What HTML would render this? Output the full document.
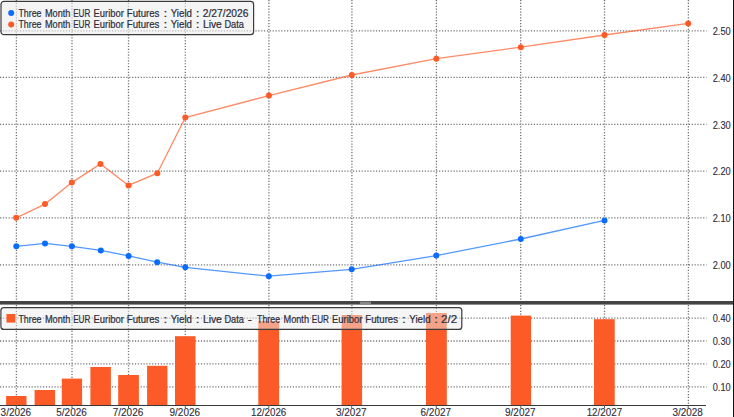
<!DOCTYPE html>
<html><head><meta charset="utf-8"><style>
html,body{margin:0;padding:0;background:#fff;width:734px;height:417px;overflow:hidden;position:relative;font-family:"Liberation Sans",sans-serif}
</style></head><body>
<svg width="734" height="417" viewBox="0 0 734 417" style="position:absolute;left:0;top:0">
<line x1="16.4" y1="0" x2="16.4" y2="301" stroke="#727272" stroke-width="1.3" stroke-dasharray="1.2 1.67"/>
<line x1="16.4" y1="305" x2="16.4" y2="405" stroke="#727272" stroke-width="1.3" stroke-dasharray="1.2 1.67"/>
<line x1="72.0" y1="0" x2="72.0" y2="301" stroke="#727272" stroke-width="1.3" stroke-dasharray="1.2 1.67"/>
<line x1="72.0" y1="305" x2="72.0" y2="405" stroke="#727272" stroke-width="1.3" stroke-dasharray="1.2 1.67"/>
<line x1="128.5" y1="0" x2="128.5" y2="301" stroke="#727272" stroke-width="1.3" stroke-dasharray="1.2 1.67"/>
<line x1="128.5" y1="305" x2="128.5" y2="405" stroke="#727272" stroke-width="1.3" stroke-dasharray="1.2 1.67"/>
<line x1="185.3" y1="0" x2="185.3" y2="301" stroke="#727272" stroke-width="1.3" stroke-dasharray="1.2 1.67"/>
<line x1="185.3" y1="305" x2="185.3" y2="405" stroke="#727272" stroke-width="1.3" stroke-dasharray="1.2 1.67"/>
<line x1="268.9" y1="0" x2="268.9" y2="301" stroke="#727272" stroke-width="1.3" stroke-dasharray="1.2 1.67"/>
<line x1="268.9" y1="305" x2="268.9" y2="405" stroke="#727272" stroke-width="1.3" stroke-dasharray="1.2 1.67"/>
<line x1="351.9" y1="0" x2="351.9" y2="301" stroke="#727272" stroke-width="1.3" stroke-dasharray="1.2 1.67"/>
<line x1="351.9" y1="305" x2="351.9" y2="405" stroke="#727272" stroke-width="1.3" stroke-dasharray="1.2 1.67"/>
<line x1="436.4" y1="0" x2="436.4" y2="301" stroke="#727272" stroke-width="1.3" stroke-dasharray="1.2 1.67"/>
<line x1="436.4" y1="305" x2="436.4" y2="405" stroke="#727272" stroke-width="1.3" stroke-dasharray="1.2 1.67"/>
<line x1="520.7" y1="0" x2="520.7" y2="301" stroke="#727272" stroke-width="1.3" stroke-dasharray="1.2 1.67"/>
<line x1="520.7" y1="305" x2="520.7" y2="405" stroke="#727272" stroke-width="1.3" stroke-dasharray="1.2 1.67"/>
<line x1="604.5" y1="0" x2="604.5" y2="301" stroke="#727272" stroke-width="1.3" stroke-dasharray="1.2 1.67"/>
<line x1="604.5" y1="305" x2="604.5" y2="405" stroke="#727272" stroke-width="1.3" stroke-dasharray="1.2 1.67"/>
<line x1="688.4" y1="0" x2="688.4" y2="301" stroke="#727272" stroke-width="1.3" stroke-dasharray="1.2 1.67"/>
<line x1="688.4" y1="305" x2="688.4" y2="405" stroke="#727272" stroke-width="1.3" stroke-dasharray="1.2 1.67"/>
<line x1="0" y1="30.8" x2="706.5" y2="30.8" stroke="#727272" stroke-width="1.3" stroke-dasharray="1.2 1.67"/>
<line x1="0" y1="77.3" x2="706.5" y2="77.3" stroke="#727272" stroke-width="1.3" stroke-dasharray="1.2 1.67"/>
<line x1="0" y1="124.3" x2="706.5" y2="124.3" stroke="#727272" stroke-width="1.3" stroke-dasharray="1.2 1.67"/>
<line x1="0" y1="171.2" x2="706.5" y2="171.2" stroke="#727272" stroke-width="1.3" stroke-dasharray="1.2 1.67"/>
<line x1="0" y1="217.8" x2="706.5" y2="217.8" stroke="#727272" stroke-width="1.3" stroke-dasharray="1.2 1.67"/>
<line x1="0" y1="264.9" x2="706.5" y2="264.9" stroke="#727272" stroke-width="1.3" stroke-dasharray="1.2 1.67"/>
<line x1="0" y1="318.1" x2="706.5" y2="318.1" stroke="#727272" stroke-width="1.3" stroke-dasharray="1.2 1.67"/>
<line x1="0" y1="341.0" x2="706.5" y2="341.0" stroke="#727272" stroke-width="1.3" stroke-dasharray="1.2 1.67"/>
<line x1="0" y1="363.9" x2="706.5" y2="363.9" stroke="#727272" stroke-width="1.3" stroke-dasharray="1.2 1.67"/>
<line x1="0" y1="386.8" x2="706.5" y2="386.8" stroke="#727272" stroke-width="1.3" stroke-dasharray="1.2 1.67"/>
<rect x="6.1" y="396" width="20.4" height="9.0" fill="#fc5a26"/>
<rect x="34.6" y="390" width="20.5" height="15.0" fill="#fc5a26"/>
<rect x="61.8" y="378.6" width="20.3" height="26.4" fill="#fc5a26"/>
<rect x="90.4" y="367" width="20.5" height="38.0" fill="#fc5a26"/>
<rect x="118.2" y="375" width="20.7" height="30.0" fill="#fc5a26"/>
<rect x="147.1" y="365.8" width="20.3" height="39.2" fill="#fc5a26"/>
<rect x="175" y="336.2" width="20.5" height="68.8" fill="#fc5a26"/>
<rect x="258.3" y="320.9" width="20.8" height="84.1" fill="#fc5a26"/>
<rect x="341.6" y="315" width="20.5" height="90.0" fill="#fc5a26"/>
<rect x="426" y="313" width="20.8" height="92.0" fill="#fc5a26"/>
<rect x="510.7" y="315.6" width="20.4" height="89.4" fill="#fc5a26"/>
<rect x="594" y="319.2" width="20.7" height="85.8" fill="#fc5a26"/>
<polyline points="16.3,246.3 45.0,243.4 71.9,246.3 100.8,250.4 128.6,255.9 157.2,262.2 185.3,267.3 268.8,276.2 351.7,269.3 436.3,255.6 520.8,239.0 604.5,220.4" fill="none" stroke="#0a6cff" stroke-opacity="0.7" stroke-width="1.3"/>
<circle cx="16.3" cy="246.3" r="3.0" fill="#0a6cff"/>
<circle cx="45.0" cy="243.4" r="3.0" fill="#0a6cff"/>
<circle cx="71.9" cy="246.3" r="3.0" fill="#0a6cff"/>
<circle cx="100.8" cy="250.4" r="3.0" fill="#0a6cff"/>
<circle cx="128.6" cy="255.9" r="3.0" fill="#0a6cff"/>
<circle cx="157.2" cy="262.2" r="3.0" fill="#0a6cff"/>
<circle cx="185.3" cy="267.3" r="3.0" fill="#0a6cff"/>
<circle cx="268.8" cy="276.2" r="3.0" fill="#0a6cff"/>
<circle cx="351.7" cy="269.3" r="3.0" fill="#0a6cff"/>
<circle cx="436.3" cy="255.6" r="3.0" fill="#0a6cff"/>
<circle cx="520.8" cy="239.0" r="3.0" fill="#0a6cff"/>
<circle cx="604.5" cy="220.4" r="3.0" fill="#0a6cff"/>
<polyline points="16.2,217.8 45.0,204.1 71.8,182.6 100.5,163.9 128.5,185.4 157.3,173.2 185.3,117.5 268.9,95.6 351.8,75.0 436.3,58.7 520.8,47.2 604.5,35.0 688.2,23.4" fill="none" stroke="#fc5a26" stroke-opacity="0.7" stroke-width="1.3"/>
<circle cx="16.2" cy="217.8" r="3.0" fill="#fc5a26"/>
<circle cx="45.0" cy="204.1" r="3.0" fill="#fc5a26"/>
<circle cx="71.8" cy="182.6" r="3.0" fill="#fc5a26"/>
<circle cx="100.5" cy="163.9" r="3.0" fill="#fc5a26"/>
<circle cx="128.5" cy="185.4" r="3.0" fill="#fc5a26"/>
<circle cx="157.3" cy="173.2" r="3.0" fill="#fc5a26"/>
<circle cx="185.3" cy="117.5" r="3.0" fill="#fc5a26"/>
<circle cx="268.9" cy="95.6" r="3.0" fill="#fc5a26"/>
<circle cx="351.8" cy="75.0" r="3.0" fill="#fc5a26"/>
<circle cx="436.3" cy="58.7" r="3.0" fill="#fc5a26"/>
<circle cx="520.8" cy="47.2" r="3.0" fill="#fc5a26"/>
<circle cx="604.5" cy="35.0" r="3.0" fill="#fc5a26"/>
<circle cx="688.2" cy="23.4" r="3.0" fill="#fc5a26"/>
<rect x="0" y="301" width="734" height="3.6" fill="#444"/>
<rect x="360" y="301.6" width="11" height="2.4" fill="#888"/>
<line x1="0" y1="405.5" x2="706" y2="405.5" stroke="#383838" stroke-width="1.2"/>
<line x1="16.3" y1="405" x2="16.3" y2="408" stroke="#555" stroke-width="1"/>
<line x1="72" y1="405" x2="72" y2="408" stroke="#555" stroke-width="1"/>
<line x1="128.5" y1="405" x2="128.5" y2="408" stroke="#555" stroke-width="1"/>
<line x1="185.3" y1="405" x2="185.3" y2="408" stroke="#555" stroke-width="1"/>
<line x1="268.8" y1="405" x2="268.8" y2="408" stroke="#555" stroke-width="1"/>
<line x1="351.7" y1="405" x2="351.7" y2="408" stroke="#555" stroke-width="1"/>
<line x1="436.3" y1="405" x2="436.3" y2="408" stroke="#555" stroke-width="1"/>
<line x1="520.8" y1="405" x2="520.8" y2="408" stroke="#555" stroke-width="1"/>
<line x1="604.5" y1="405" x2="604.5" y2="408" stroke="#555" stroke-width="1"/>
<line x1="688.2" y1="405" x2="688.2" y2="408" stroke="#555" stroke-width="1"/>
<line x1="733.5" y1="0" x2="733.5" y2="417" stroke="#111" stroke-width="1"/>
<rect x="1" y="1.4" width="252.6" height="33.3" rx="3" fill="rgba(236,236,236,0.6)" stroke="#3c3c3c" stroke-width="1.2"/>
<circle cx="11.2" cy="13" r="3" fill="#0a6cff"/>
<circle cx="11.2" cy="24.5" r="3" fill="#fc5a26"/>
<rect x="0.9" y="307.6" width="460.9" height="21.8" rx="3" fill="rgba(236,236,236,0.5)" stroke="#3c3c3c" stroke-width="1.2"/>
<rect x="6.5" y="314" width="8.8" height="8.6" fill="#fc5a26"/>
<g font-family="Liberation Sans, sans-serif" font-size="10.5" fill="#2e2e3c" stroke="#2e2e3c" stroke-width="0.22">
<text x="18.43" y="16.9" textLength="23.13" lengthAdjust="spacingAndGlyphs">Three</text>
<text x="44.91" y="16.9" textLength="25.48" lengthAdjust="spacingAndGlyphs">Month</text>
<text x="73.20" y="16.9" textLength="17.14" lengthAdjust="spacingAndGlyphs">EUR</text>
<text x="93.49" y="16.9" textLength="30.34" lengthAdjust="spacingAndGlyphs">Euribor</text>
<text x="126.77" y="16.9" textLength="32.69" lengthAdjust="spacingAndGlyphs">Futures</text>
<text x="163.45" y="16.9" textLength="3.79" lengthAdjust="spacingAndGlyphs">:</text>
<text x="170.72" y="16.9" textLength="21.29" lengthAdjust="spacingAndGlyphs">Yield</text>
<text x="195.75" y="16.9" textLength="3.79" lengthAdjust="spacingAndGlyphs">:</text>
<text x="202.81" y="16.9" textLength="45.69" lengthAdjust="spacingAndGlyphs">2/27/2026</text>
<text x="18.43" y="28.4" textLength="23.13" lengthAdjust="spacingAndGlyphs">Three</text>
<text x="44.91" y="28.4" textLength="25.48" lengthAdjust="spacingAndGlyphs">Month</text>
<text x="73.20" y="28.4" textLength="17.14" lengthAdjust="spacingAndGlyphs">EUR</text>
<text x="93.49" y="28.4" textLength="30.34" lengthAdjust="spacingAndGlyphs">Euribor</text>
<text x="126.77" y="28.4" textLength="32.69" lengthAdjust="spacingAndGlyphs">Futures</text>
<text x="163.45" y="28.4" textLength="3.79" lengthAdjust="spacingAndGlyphs">:</text>
<text x="170.72" y="28.4" textLength="21.29" lengthAdjust="spacingAndGlyphs">Yield</text>
<text x="195.75" y="28.4" textLength="3.79" lengthAdjust="spacingAndGlyphs">:</text>
<text x="202.92" y="28.4" textLength="18.94" lengthAdjust="spacingAndGlyphs">Live</text>
<text x="224.41" y="28.4" textLength="19.47" lengthAdjust="spacingAndGlyphs">Data</text>
<text x="18.43" y="322.6" textLength="23.13" lengthAdjust="spacingAndGlyphs">Three</text>
<text x="44.91" y="322.6" textLength="25.48" lengthAdjust="spacingAndGlyphs">Month</text>
<text x="73.20" y="322.6" textLength="17.14" lengthAdjust="spacingAndGlyphs">EUR</text>
<text x="93.49" y="322.6" textLength="30.34" lengthAdjust="spacingAndGlyphs">Euribor</text>
<text x="126.77" y="322.6" textLength="32.69" lengthAdjust="spacingAndGlyphs">Futures</text>
<text x="163.45" y="322.6" textLength="3.79" lengthAdjust="spacingAndGlyphs">:</text>
<text x="170.72" y="322.6" textLength="21.29" lengthAdjust="spacingAndGlyphs">Yield</text>
<text x="195.75" y="322.6" textLength="3.79" lengthAdjust="spacingAndGlyphs">:</text>
<text x="202.92" y="322.6" textLength="18.94" lengthAdjust="spacingAndGlyphs">Live</text>
<text x="224.41" y="322.6" textLength="19.47" lengthAdjust="spacingAndGlyphs">Data</text>
<text x="247.80" y="322.6" textLength="4.20" lengthAdjust="spacingAndGlyphs">-</text>
<text x="257.03" y="322.6" textLength="23.13" lengthAdjust="spacingAndGlyphs">Three</text>
<text x="283.51" y="322.6" textLength="25.48" lengthAdjust="spacingAndGlyphs">Month</text>
<text x="311.80" y="322.6" textLength="17.14" lengthAdjust="spacingAndGlyphs">EUR</text>
<text x="332.09" y="322.6" textLength="30.34" lengthAdjust="spacingAndGlyphs">Euribor</text>
<text x="365.37" y="322.6" textLength="32.69" lengthAdjust="spacingAndGlyphs">Futures</text>
<text x="402.05" y="322.6" textLength="3.79" lengthAdjust="spacingAndGlyphs">:</text>
<text x="409.32" y="322.6" textLength="21.29" lengthAdjust="spacingAndGlyphs">Yield</text>
<text x="434.35" y="322.6" textLength="3.79" lengthAdjust="spacingAndGlyphs">:</text>
<text x="441.05" y="322.6" textLength="16.10" lengthAdjust="spacingAndGlyphs">2/2</text>
</g>
<g font-family="Liberation Sans, sans-serif" font-size="10.5" fill="#2e2e3c" stroke="#2e2e3c" stroke-width="0.12">
<text x="712.66" y="34.8" textLength="18.03" lengthAdjust="spacingAndGlyphs">2.50</text>
<text x="712.66" y="81.5" textLength="18.03" lengthAdjust="spacingAndGlyphs">2.40</text>
<text x="712.66" y="128.5" textLength="18.03" lengthAdjust="spacingAndGlyphs">2.30</text>
<text x="712.66" y="175.0" textLength="18.03" lengthAdjust="spacingAndGlyphs">2.20</text>
<text x="712.66" y="221.8" textLength="18.03" lengthAdjust="spacingAndGlyphs">2.10</text>
<text x="712.66" y="268.79999999999995" textLength="18.03" lengthAdjust="spacingAndGlyphs">2.00</text>
<text x="712.75" y="321.79999999999995" textLength="17.93" lengthAdjust="spacingAndGlyphs">0.40</text>
<text x="712.75" y="344.79999999999995" textLength="17.93" lengthAdjust="spacingAndGlyphs">0.30</text>
<text x="712.75" y="367.79999999999995" textLength="17.93" lengthAdjust="spacingAndGlyphs">0.20</text>
<text x="712.75" y="390.79999999999995" textLength="17.93" lengthAdjust="spacingAndGlyphs">0.10</text>
<text x="0.62" y="416.0" textLength="30.47" lengthAdjust="spacingAndGlyphs">3/2026</text>
<text x="56.32" y="416.0" textLength="30.47" lengthAdjust="spacingAndGlyphs">5/2026</text>
<text x="112.72" y="416.0" textLength="30.57" lengthAdjust="spacingAndGlyphs">7/2026</text>
<text x="169.52" y="416.0" textLength="30.57" lengthAdjust="spacingAndGlyphs">9/2026</text>
<text x="250.95" y="416.0" textLength="35.37" lengthAdjust="spacingAndGlyphs">12/2026</text>
<text x="336.02" y="416.0" textLength="30.47" lengthAdjust="spacingAndGlyphs">3/2027</text>
<text x="420.52" y="416.0" textLength="30.57" lengthAdjust="spacingAndGlyphs">6/2027</text>
<text x="505.02" y="416.0" textLength="30.57" lengthAdjust="spacingAndGlyphs">9/2027</text>
<text x="586.65" y="416.0" textLength="35.47" lengthAdjust="spacingAndGlyphs">12/2027</text>
<text x="672.52" y="416.0" textLength="30.37" lengthAdjust="spacingAndGlyphs">3/2028</text>
</g>
</svg>
</body></html>
